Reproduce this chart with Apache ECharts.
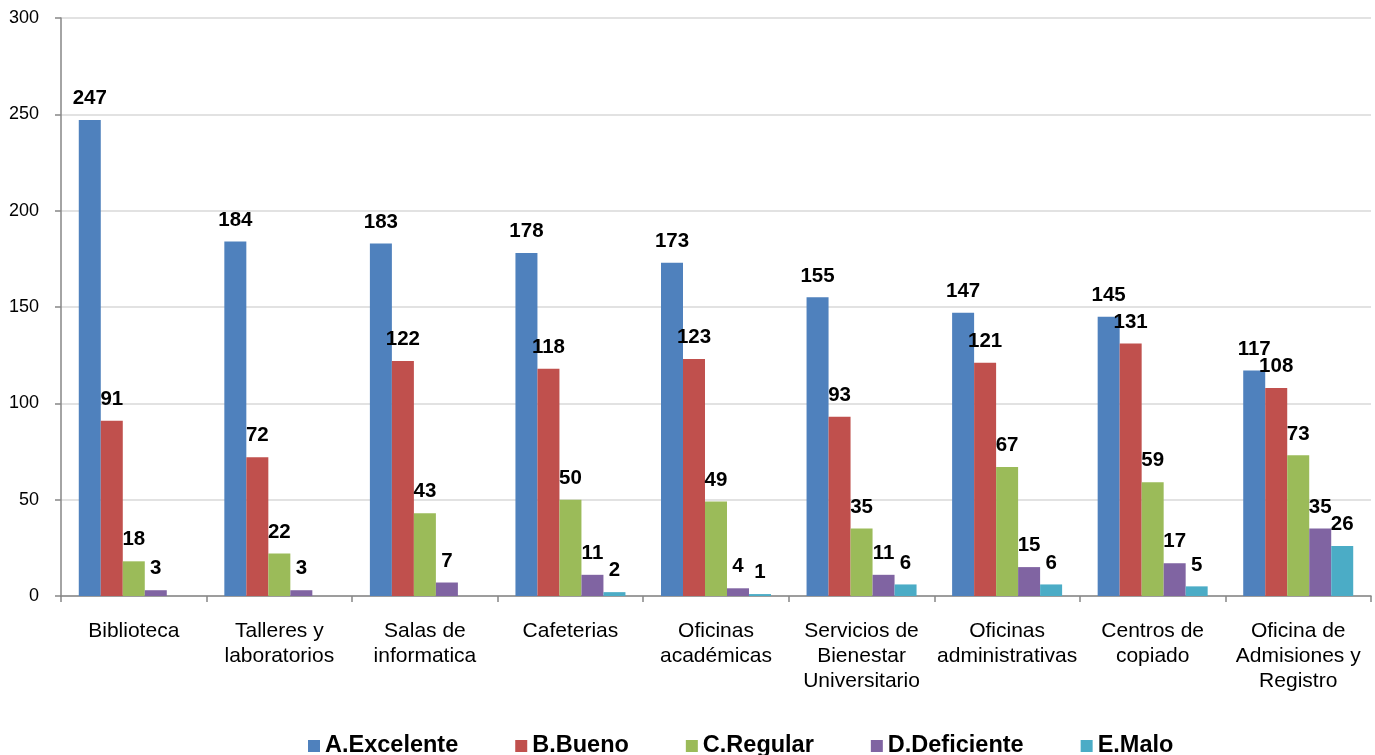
<!DOCTYPE html>
<html>
<head>
<meta charset="utf-8">
<script src="https://cdn.jsdelivr.net/npm/echarts@6/dist/echarts.min.js"></script>
<style>html,body{margin:0;padding:0;background:#fff}#c{width:1375px;height:755px}</style>
</head>
<body>
<div id="c"></div>
<script>
var categories = ['Biblioteca', 'Talleres y\nlaboratorios', 'Salas de\ninformatica', 'Cafeterias', 'Oficinas\nacadémicas', 'Servicios de\nBienestar\nUniversitario', 'Oficinas\nadministrativas', 'Centros de\ncopiado', 'Oficina de\nAdmisiones y\nRegistro'];
var seriesNames = ['A.Excelente', 'B.Bueno', 'C.Regular', 'D.Deficiente', 'E.Malo'];
var excelente = [247, 184, 183, 178, 173, 155, 147, 145, 117];
var bueno = [91, 72, 122, 118, 123, 93, 121, 131, 108];
var regular = [18, 22, 43, 50, 49, 35, 67, 59, 73];
var deficiente = [3, 3, 7, 11, 4, 11, 15, 17, 35];
var malo = [0, 0, 0, 2, 1, 6, 6, 5, 26];
var yTicks = [0, 50, 100, 150, 200, 250, 300];

var colors = ['#4F81BD', '#C0504D', '#9BBB59', '#8064A2', '#4BACC6'];
var allData = [excelente, bueno, regular, deficiente, malo];
var font = '"Liberation Sans", Arial, sans-serif';

var chart = echarts.init(document.getElementById('c'));
chart.setOption({
  animation: false,
  color: colors,
  grid: { left: 61, right: 4, top: 18, bottom: 159, containLabel: false },
  legend: {
    left: 303, top: 729,
    itemWidth: 12, itemHeight: 12, itemGap: 57,
    icon: 'rect',
    textStyle: { fontFamily: font, fontWeight: 'bold', fontSize: 23.5, color: '#000' },
    data: seriesNames
  },
  xAxis: {
    type: 'category',
    data: categories,
    axisLine: { lineStyle: { color: '#868686', width: 1.5 } },
    axisTick: { show: true, length: 6, lineStyle: { color: '#868686', width: 1.5 } },
    axisLabel: { fontFamily: font, fontSize: 21, color: '#000', lineHeight: 25, margin: 23, interval: 0 }
  },
  yAxis: {
    type: 'value',
    min: yTicks[0], max: yTicks[yTicks.length - 1], interval: 50,
    axisLine: { show: true, lineStyle: { color: '#868686', width: 1.5 } },
    axisTick: { show: true, length: 6, lineStyle: { color: '#868686', width: 1.5 } },
    splitLine: { lineStyle: { color: '#D9D9D9', width: 1.5 } },
    axisLabel: { fontFamily: font, fontSize: 18, color: '#000', margin: 22 }
  },
  series: seriesNames.map(function (n, i) {
    return {
      name: n, type: 'bar', data: allData[i],
      barWidth: 22, barGap: '0%',
      itemStyle: { color: colors[i] },
      label: {
        show: true, position: 'top', distance: 11,
        fontFamily: font, fontWeight: 'bold', fontSize: 20.5, color: '#000',
        formatter: function (p) { return p.value === 0 ? '' : String(p.value); }
      }
    };
  })
});
</script>
</body>
</html>
